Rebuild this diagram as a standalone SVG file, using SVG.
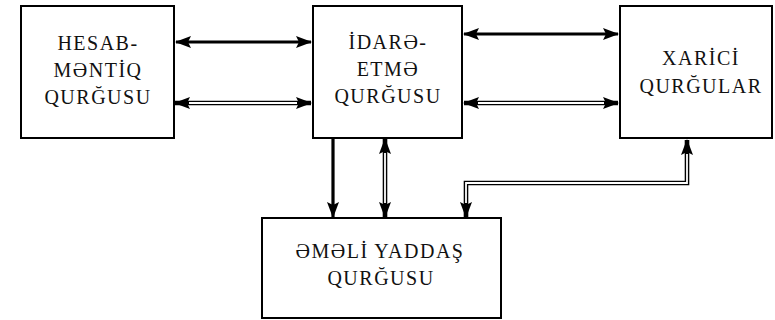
<svg xmlns="http://www.w3.org/2000/svg" width="775" height="320" viewBox="0 0 775 320">
<defs>
<style>
.box{fill:#fff;stroke:#000;stroke-width:2}
.t{font-family:'Times New Roman','Liberation Serif',serif;font-size:20px;letter-spacing:1.5px;fill:#111;text-anchor:middle}
.thick{fill:none;stroke:#000;stroke-width:3.2}
.dout{fill:none;stroke:#000;stroke-width:4.6}
.din{fill:none;stroke:#fff;stroke-width:1.8}
</style>
<marker id="ah" viewBox="0 0 16 12" refX="15" refY="6" markerWidth="16" markerHeight="12" markerUnits="userSpaceOnUse" orient="auto-start-reverse">
<path d="M0,0 L16,6 L0,12 L3,6 Z" fill="#000"/>
</marker>
</defs>
<rect width="775" height="320" fill="#fff"/>
<g id="hesab">
<rect class="box" x="21" y="6" width="153" height="132"/>
<text class="t" x="98" y="50" font-family="Liberation Serif">HESAB-</text>
<text class="t" x="98" y="77">MƏNTİQ</text>
<text class="t" x="98" y="104">QURĞUSU</text>
</g>
<g id="idare">
<rect class="box" x="313" y="6" width="149" height="132"/>
<text class="t" x="388" y="49">İDARƏ-</text>
<text class="t" x="388" y="76">ETMƏ</text>
<text class="t" x="388" y="103">QURĞUSU</text>
</g>
<g id="xarici">
<rect class="box" x="620" y="6" width="152" height="132"/>
<text class="t" x="701" y="65">XARİCİ</text>
<text class="t" x="701" y="93">QURĞULAR</text>
</g>
<g id="yaddas">
<rect class="box" x="262" y="218" width="239" height="100"/>
<text class="t" x="380" y="258">ƏMƏLİ YADDAŞ</text>
<text class="t" x="381" y="285">QURĞUSU</text>
</g>
<g id="connectors">
<path class="thick" d="M176,42 H311" marker-start="url(#ah)" marker-end="url(#ah)"/>
<path class="thick" d="M464,34 H618" marker-start="url(#ah)" marker-end="url(#ah)"/>
<path class="thick" d="M333,138 V217" marker-end="url(#ah)"/>
<path class="dout" d="M175,103 H311" marker-start="url(#ah)" marker-end="url(#ah)"/>
<path class="din" d="M189,103 H297"/>
<path class="dout" d="M464,103 H618" marker-start="url(#ah)" marker-end="url(#ah)"/>
<path class="din" d="M478,103 H604"/>
<path class="dout" d="M385,139 V217" marker-start="url(#ah)" marker-end="url(#ah)"/>
<path class="din" d="M385,153 V203"/>
<path class="dout" d="M466,217 V183 H687 V140" marker-start="url(#ah)" marker-end="url(#ah)"/>
<path class="din" d="M466,203 V183 H687 V154"/>
</g>
</svg>
